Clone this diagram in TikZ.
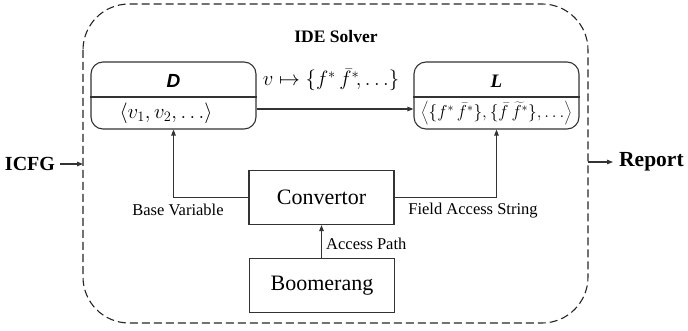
\documentclass[tikz,border=0pt]{standalone}
\usepackage{fontspec}
\setmainfont{Liberation Serif}
\newfontfamily\dfont{Liberation Sans}
\usetikzlibrary{arrows.meta}
\begin{document}
\begin{tikzpicture}[x=1pt,y=-1pt,
  line/.style={draw=black!80,line width=1.1pt},
  arr/.style={line,-{Triangle[length=6pt,width=4.5pt]}},
  rbox/.style={line,rounded corners=12pt,minimum width=165pt,minimum height=67pt,inner sep=0pt},
  sbox/.style={line,minimum width=145pt,minimum height=54pt,inner sep=0pt,font=\fontsize{22}{24}\selectfont},
  lab/.style={inner sep=0pt,font=\fontsize{16.5}{19}\selectfont},
  big/.style={inner sep=0pt,font=\fontsize{20}{22}\selectfont\bfseries},
  mth/.style={inner sep=0pt,font=\fontsize{17}{20}\selectfont}]
\useasboundingbox (0,0) rectangle (688,331);
% outer dashed solver box
\draw[black!85,line width=1.1pt,dash pattern=on 8pt off 4pt,rounded corners=46pt] (83,4) rectangle (588,323);
\node[inner sep=0pt,font=\fontsize{17.5}{20}\selectfont\bfseries] (title) at (336,37) {IDE Solver};
% D and L boxes
\node[rbox] (D) at (173.5,95.5) {};
\node[rbox] (L) at (496.5,95.5) {};
\draw[line] (D.west |- 0,97) -- (D.east |- 0,97);
\draw[line] (L.west |- 0,97) -- (L.east |- 0,97);
\node[inner sep=0pt,font=\dfont\fontsize{19}{21}\selectfont\bfseries\itshape] (Dh) at (173.5,81) {D};
\node[inner sep=0pt,font=\fontsize{19}{21}\selectfont\bfseries\itshape] (Lh) at (496.5,81) {L};
\node[mth,font=\fontsize{20}{22}\selectfont] (Dc) at (166,113) {$\langle v_1, v_2, \ldots\rangle$};
\node[mth] (Lc) at (496.5,113) {$\left\langle\{f^*\,\bar{f}^*\},\{\bar{f}\,\widetilde{f}^*\},\ldots\right\rangle$};
\draw[arr] (D.east |- 0,109) -- (L.west |- 0,109);
\node[mth,font=\fontsize{20}{22}\selectfont] (map) at (331,80) {$v\mapsto\{f^*\,\bar{f}^*\!,\ldots\}$};
% convertor and boomerang
\node[sbox] (C) at (321.5,197.5) {Convertor};
\node[sbox] (B) at (322,285.5) {Boomerang};
\draw[arr] (C.west) -| (D.south);
\draw[arr] (C.east) -| (L.south);
\draw[arr] (B.north -| C.south) -- (C.south);
\node[lab] (bv) at (178,210) {Base Variable};
\node[lab] (fa) at (473,211) {Field Access String};
\node[lab,anchor=west] (ap) at (326,244) {Access Path};
% ICFG and Report
\node[big] (icfg) at (30,164) {ICFG};
\coordinate (inL) at (83,164);
\draw[arr] (icfg.east) ++(5,0) coordinate (icfgs) -- (inL);
\node[big,anchor=west,font=\fontsize{21.5}{24}\selectfont\bfseries] (rep) at (619,162) {Report};
\coordinate (outR) at (588,162);
\draw[arr] (outR) -- ([xshift=-6pt]rep.west);
\end{tikzpicture}
\end{document}
